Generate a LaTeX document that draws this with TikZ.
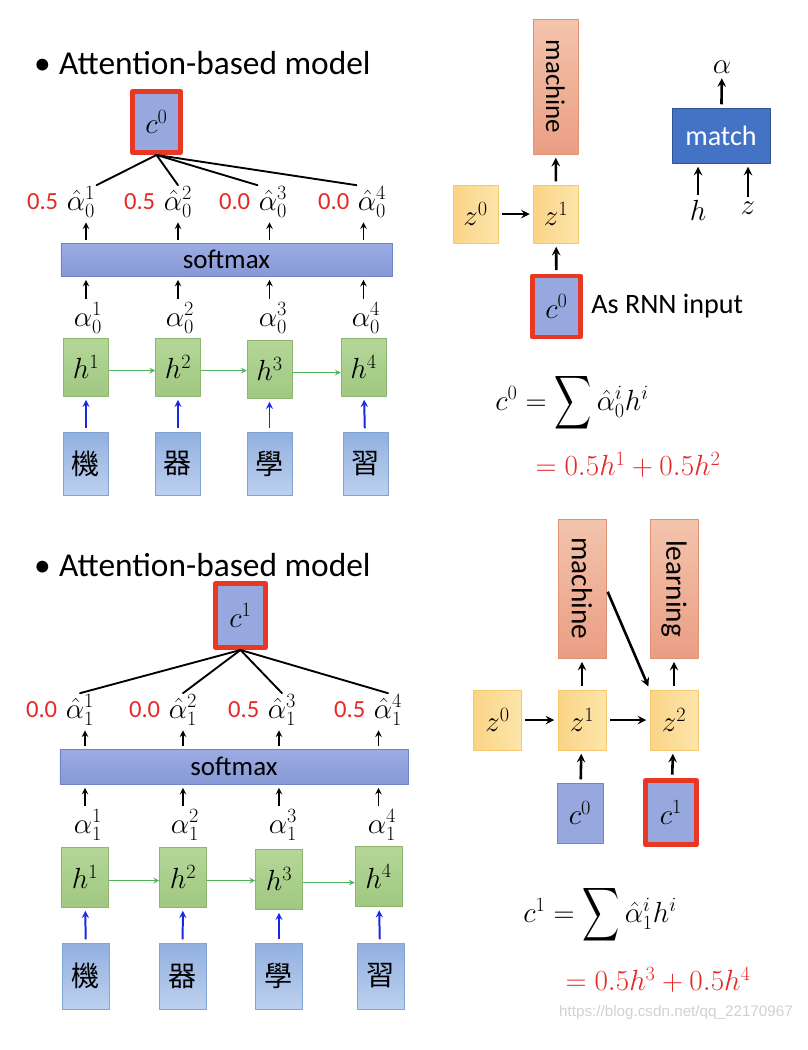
\documentclass[tikz,border=0pt]{standalone}
\usepackage{graphicx}
\usepackage{fontspec}
\setmainfont{Carlito}
\newfontfamily\cjk{Noto Sans CJK TC}
\newfontfamily\wmfont{Liberation Sans}
\usetikzlibrary{positioning}
\newcommand{\setfs}[1]{\fontsize{#1}{#1}\selectfont}
\newcommand{\bigsum}{\mathop{\vcenter{\hbox{\scalebox{2.2}[3.2]{$\displaystyle\sum$}}}}}
\definecolor{htop}{RGB}{180,215,152}
\definecolor{hbot}{RGB}{160,200,130}
\definecolor{hline}{RGB}{140,182,112}
\definecolor{wtop}{RGB}{146,176,222}
\definecolor{wbot}{RGB}{188,208,240}
\definecolor{wline}{RGB}{128,164,212}
\definecolor{smtop}{RGB}{156,172,228}
\definecolor{smbot}{RGB}{134,152,214}
\definecolor{smline}{RGB}{112,132,200}
\definecolor{cfill}{RGB}{150,168,222}
\definecolor{selred}{RGB}{232,56,36}
\definecolor{valred}{RGB}{230,40,40}
\definecolor{otop}{RGB}{243,196,172}
\definecolor{obot}{RGB}{234,158,132}
\definecolor{oline}{RGB}{224,146,116}
\definecolor{zleft}{RGB}{250,212,135}
\definecolor{zright}{RGB}{253,229,170}
\definecolor{zline}{RGB}{245,200,112}
\definecolor{mblue}{RGB}{68,114,196}
\definecolor{mline}{RGB}{47,84,150}
\definecolor{ggreen}{RGB}{80,180,90}
\definecolor{bblue}{RGB}{20,40,230}
\begin{document}
\begin{tikzpicture}[x=0.03cm, y=-0.03cm, line join=round, >=stealth]
	\tikzset{
		hbox/.style={draw=hline, top color=htop, bottom color=hbot, minimum width=1.35cm, minimum height=1.74cm, inner sep=0pt, font=\setfs{26}},
		wbox/.style={draw=wline, top color=wtop, bottom color=wbot, minimum width=1.35cm, minimum height=1.89cm, inner sep=0pt, font=\cjk\setfs{24}},
		smbox/.style={draw=smline, top color=smtop, bottom color=smbot, inner sep=0pt, font=\setfs{23}},
		cbox/.style={draw=smline, fill=cfill, minimum width=1.38cm, minimum height=1.8cm, inner sep=0pt, font=\setfs{27}},
		selbox/.style={draw=selred, line width=4.2pt, fill=cfill, minimum width=1.44cm, minimum height=1.83cm, inner sep=0pt, font=\setfs{27}},
		outbox/.style={draw=oline, top color=otop, bottom color=obot, rotate=-90, minimum width=4.05cm, minimum height=1.35cm, inner sep=0pt, font=\setfs{23}},
		zbox/.style={draw=zline, left color=zleft, right color=zright, minimum width=1.35cm, minimum height=1.74cm, inner sep=0pt, font=\setfs{26}},
		matchbox/.style={draw=mline, fill=mblue, text=white, minimum width=2.94cm, minimum height=1.65cm, inner sep=0pt, font=\setfs{24}},
		lbl/.style={inner sep=1pt, font=\setfs{26}},
		val/.style={inner sep=1pt, text=valred, font=\setfs{21}},
		title/.style={anchor=west, inner sep=0pt, font=\setfs{28.5}},
		eqn/.style={inner sep=0pt, font=\setfs{27}},
		arr/.style={->, line width=1.5pt, shorten <=2pt, shorten >=3pt},
		arr2/.style={->, line width=2.2pt, shorten <=3pt, shorten >=3pt},
		garr/.style={->, ggreen, line width=1.2pt},
		barr/.style={->, bblue, line width=1.7pt, shorten <=3pt, shorten >=3pt},
		wline/.style={line width=1.6pt, line cap=round}
	}
	\useasboundingbox (0,0) rectangle (808,1050);
	
	% upper half
	\node[title] (t0) at (34,63) {\textbullet\hspace{0.25em}Attention-based model};
	\node[selbox] (c0) at (156.5,122) {$c^0$};
	\foreach \i/\x in {1/81,2/178,3/273,4/372}
	\node[lbl] (ha\i) at (\x,202) {$\hat\alpha_0^{\i}$};
	\foreach \i/\v in {1/0.5,2/0.5,3/0.0,4/0.0}
	\node[val, left=5pt of ha\i] (v\i) {\v};
	\node[smbox, minimum width=9.93cm, minimum height=0.99cm] (sm) at (226.5,259.5) {softmax};
	\foreach \i/\x in {1/88,2/180,3/273,4/366}
	\node[lbl] (a\i) at (\x,318) {$\alpha_0^{\i}$};
	\foreach \i/\x/\y in {1/86/367,2/178/367,3/269.5/369,4/363.5/367}
	\node[hbox] (h\i) at (\x,\y) {$h^{\i}$};
	\foreach \i/\x/\c in {1/86/機,2/178/器,3/269.5/學,4/365.5/習}
	\node[wbox] (w\i) at (\x,463.5) {\c};
	\foreach \i in {1,...,4} {
		\draw[arr] (h\i |- a\i.north) -- (h\i |- sm.south);
		\draw[arr] (h\i |- sm.north) -- (h\i |- ha\i.south);
		\draw[barr] (w\i) -- (h\i);
	}
	\foreach \i/\j in {1/2,2/3,3/4}
	\draw[garr] ([yshift=-3pt]h\i.east) -- ([yshift=-3pt]h\i.east -| h\j.west);
	\draw[wline] (ha1.north east) -- (c0.south);
	\draw[wline] (ha2.north) -- (c0.south);
	\draw[wline] (ha3.north west) -- (c0.south);
	\draw[wline] (ha4.north west) -- (c0.south);
	
	\node[outbox] (m1) at (555.5,86.5) {machine};
	\node[zbox] (z0) at (475.5,214) {$z^0$};
	\node[zbox] (z1) at (556,214) {$z^1$};
	\node[selbox] (c0b) at (556.5,306.5) {$c^0$};
	\node[inner sep=0pt, font=\setfs{24}, right=7pt of c0b] (rnn) {As RNN input};
	\draw[arr2] (z0) -- (z1);
	\draw[arr2] (z1) -- (m1);
	\draw[arr2] (c0b) -- (z1);
	\node[matchbox] (mt) at (721,135.5) {match};
	\node[lbl] (al) at (722,67) {$\alpha$};
	\node[lbl] (hh) at (698,210) {$h$};
	\node[lbl] (zz) at (748,208) {$z$};
	\draw[arr2] (mt) -- (al);
	\draw[arr2] (hh) -- (hh |- mt.south);
	\draw[arr2] (zz) -- (zz |- mt.south);
	\node[eqn] (f1) at (572,403) {$c^0=\bigsum\hat\alpha_0^i h^i$};
	\node[eqn, text=valred] (f2) at (628,465) {$=0.5h^1+0.5h^2$};
	
	% lower half
	\node[title] (t1) at (34,565) {\textbullet\hspace{0.25em}Attention-based model};
	\node[selbox, minimum width=1.5cm, minimum height=1.92cm] (c1) at (240.5,615.5) {$c^1$};
	\foreach \i/\x in {1/80,2/183,3/282,4/388}
	\node[lbl] (hb\i) at (\x,710) {$\hat\alpha_1^{\i}$};
	\foreach \i/\v in {1/0.0,2/0.0,3/0.5,4/0.5}
	\node[val, left=5pt of hb\i] (u\i) {\v};
	\node[smbox, minimum width=10.44cm, minimum height=1.05cm] (sb) at (234,766.5) {softmax};
	\foreach \i/\x in {1/88,2/185,3/283,4/382}
	\node[lbl] (b\i) at (\x,825) {$\alpha_1^{\i}$};
	\foreach \i/\x/\y in {1/85/877,2/183/877,3/279/879,4/378.5/876.5}
	\node[hbox, minimum width=1.41cm, minimum height=1.8cm] (g\i) at (\x,\y) {$h^{\i}$};
	\foreach \i/\x/\c in {1/86/機,2/182.5/器,3/279/學,4/380.5/習}
	\node[wbox, minimum width=1.41cm, minimum height=1.98cm] (k\i) at (\x,976) {\c};
	\foreach \i in {1,...,4} {
		\draw[arr] (g\i |- b\i.north) -- (g\i |- sb.south);
		\draw[arr] (g\i |- sb.north) -- (g\i |- hb\i.south);
		\draw[barr] (k\i) -- (g\i);
	}
	\foreach \i/\j in {1/2,2/3,3/4}
	\draw[garr] ([yshift=-3pt]g\i.east) -- ([yshift=-3pt]g\i.east -| g\j.west);
	\foreach \i in {1,...,4}
	\draw[wline] (hb\i.north) -- (c1.south);
	
	\node[outbox, minimum width=4.17cm, minimum height=1.44cm, font=\setfs{25}] (m2) at (582,588.5) {machine};
	\node[outbox, minimum width=4.17cm, minimum height=1.44cm, font=\setfs{25}] (l2) at (674,588.5) {learning};
	\node[zbox, minimum width=1.44cm, minimum height=1.8cm] (y0) at (497.5,720) {$z^0$};
	\node[zbox, minimum width=1.44cm, minimum height=1.8cm] (y1) at (582,720) {$z^1$};
	\node[zbox, minimum width=1.44cm, minimum height=1.8cm] (y2) at (674,720) {$z^2$};
	\node[cbox] (d0) at (580,813) {$c^0$};
	\node[selbox, minimum width=1.53cm, minimum height=1.92cm] (d1) at (671,812.5) {$c^1$};
	\draw[arr2] (y0) -- (y1);
	\draw[arr2] (y1) -- (y2);
	\draw[arr2] (y1) -- (m2);
	\draw[arr2] (y2) -- (l2);
	\draw[arr2] (d0) -- (y1);
	\draw[arr2] (d1) -- (y2);
	\draw[arr2] (m2.north) -- (y2.north west);
	\node[eqn] (f3) at (600,915) {$c^1=\bigsum\hat\alpha_1^i h^i$};
	\node[eqn, text=valred] (f4) at (658,980) {$=0.5h^3+0.5h^4$};
	\node[inner sep=0pt, text=black!18, font=\wmfont\setfs{13}] (wm) at (676,1013) {https://blog.csdn.net/qq\_22170967};
\end{tikzpicture}
\end{document}
